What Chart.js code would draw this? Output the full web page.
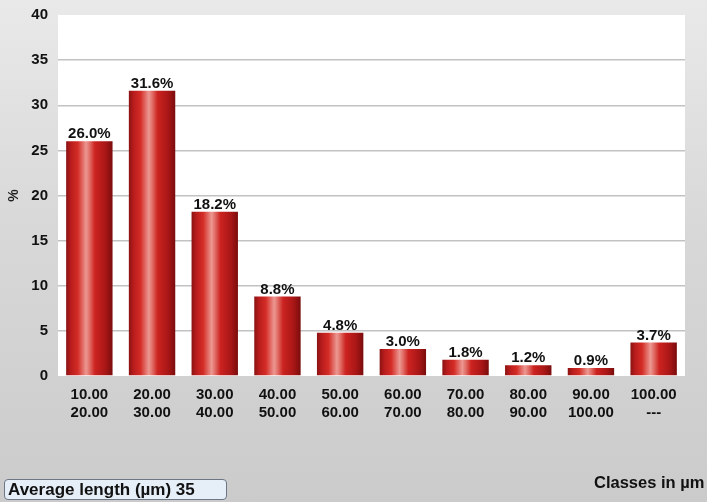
<!DOCTYPE html>
<html>
<head>
<meta charset="utf-8">
<script src="https://cdn.jsdelivr.net/npm/chart.js@4.4.1/dist/chart.umd.min.js"></script>
<style>
  html, body { margin: 0; padding: 0; }
  #wrap {
    position: relative;
    width: 707px;
    height: 502px;
    background: linear-gradient(to bottom, #e9e9e9 0%, #d8d8d8 45%, #cbcbcb 100%);
    overflow: hidden;
  }
  #chartBox { position: absolute; left: 0; top: 0; width: 707px; height: 502px; }
  #avgBox {
    position: absolute;
    left: 4px;
    top: 479px;
    width: 218px;
    height: 19px;
    border: 1px solid #6c7684;
    border-radius: 4px;
    background: #e6eef8;
    font-family: "Liberation Sans", Arial, sans-serif;
    font-weight: bold;
    font-size: 17px;
    line-height: 19px;
    padding-left: 3px;
    color: #111;
    white-space: nowrap;
  }
  #xTitle {
    position: absolute;
    left: 594px;
    top: 473px;
    font-family: "Liberation Sans", Arial, sans-serif;
    font-weight: bold;
    font-size: 16.5px;
    color: #111;
    white-space: nowrap;
  }
</style>
</head>
<body>
<div id="wrap">
  <div id="chartBox"><canvas id="histChart"></canvas></div>
  <div id="avgBox">Average length (µm) 35</div>
  <div id="xTitle">Classes in µm</div>
</div>
<script>
// Classes (two lines each) and percentages
const classFrom = ['10.00', '20.00', '30.00', '40.00', '50.00', '60.00', '70.00', '80.00', '90.00', '100.00'];
const classTo = ['20.00', '30.00', '40.00', '50.00', '60.00', '70.00', '80.00', '90.00', '100.00', '---'];
const percents = [26.0, 31.6, 18.2, 8.8, 4.8, 3.0, 1.8, 1.2, 0.9, 3.7];
const yTicks = [0, 5, 10, 15, 20, 25, 30, 35, 40];

const BAR_PCT = 0.74;
const FONT = '"Liberation Sans", Arial, sans-serif';

// white plot area
const plotBg = {
  id: 'plotBg',
  beforeDraw(chart) {
    const a = chart.chartArea;
    const ctx = chart.ctx;
    ctx.save();
    ctx.fillStyle = '#ffffff';
    ctx.fillRect(a.left, a.top, a.right - a.left, a.bottom - a.top);
    ctx.restore();
  }
};

// value labels on top of bars
const valueLabels = {
  id: 'valueLabels',
  afterDatasetsDraw(chart) {
    const ctx = chart.ctx;
    const meta = chart.getDatasetMeta(0);
    ctx.save();
    ctx.font = 'bold 15px ' + FONT;
    ctx.fillStyle = '#111111';
    ctx.textAlign = 'center';
    ctx.textBaseline = 'alphabetic';
    meta.data.forEach((bar, i) => {
      ctx.fillText(percents[i].toFixed(1) + '%', bar.x, bar.y - 3);
    });
    ctx.restore();
  }
};

// cylinder-like gradient for each bar
function barGradient(context) {
  const chart = context.chart;
  const xs = chart.scales.x;
  if (!xs || context.dataIndex === undefined) return '#cc2020';
  const cx = xs.getPixelForValue(context.dataIndex);
  const w = xs.width / classFrom.length * BAR_PCT;
  if (!isFinite(cx) || !isFinite(w) || w <= 0) return '#cc2020';
  const g = chart.ctx.createLinearGradient(cx - w / 2, 0, cx + w / 2, 0);
  g.addColorStop(0, '#8a1212');
  g.addColorStop(0.1, '#b81c1c');
  g.addColorStop(0.25, '#d42c26');
  g.addColorStop(0.43, '#ec9892');
  g.addColorStop(0.5, '#e2716a');
  g.addColorStop(0.62, '#cc2320');
  g.addColorStop(0.85, '#a81616');
  g.addColorStop(1, '#7a0c0c');
  return g;
}

new Chart(document.getElementById('histChart'), {
  type: 'bar',
  data: {
    labels: classFrom.map((f, i) => [f, classTo[i]]),
    datasets: [{
      data: percents,
      backgroundColor: barGradient,
      borderWidth: 0,
      categoryPercentage: 1,
      barPercentage: BAR_PCT
    }]
  },
  options: {
    responsive: true,
    maintainAspectRatio: false,
    animation: false,
    layout: { padding: { top: 15, right: 22, left: 0, bottom: 0 } },
    plugins: {
      legend: { display: false },
      tooltip: { enabled: false }
    },
    scales: {
      x: {
        grid: { display: false, drawTicks: false },
        border: { display: false },
        ticks: {
          color: '#111111',
          padding: 9,
          maxRotation: 0,
          autoSkip: false,
          font: { family: FONT, size: 15, weight: 'bold', lineHeight: 1.25 }
        },
        afterFit(scale) { scale.height = 126; }
      },
      y: {
        min: 0,
        max: 40,
        afterBuildTicks(scale) { scale.ticks = yTicks.map(v => ({ value: v })); },
        grid: {
          drawTicks: false,
          lineWidth: 1.5,
          color: (c) => (c.tick && (c.tick.value === 0 || c.tick.value === 40)) ? 'rgba(0,0,0,0)' : '#c2c2c2'
        },
        border: { display: false },
        ticks: {
          color: '#111111',
          padding: 10,
          font: { family: FONT, size: 15, weight: 'bold' }
        },
        title: {
          display: true,
          text: '%',
          color: '#222222',
          padding: { top: 6 },
          font: { family: FONT, size: 14, weight: 'bold' }
        },
        afterFit(scale) {
          scale.width = 58;
          scale.paddingTop = 0;
          scale.paddingBottom = 0;
        }
      }
    }
  },
  plugins: [plotBg, valueLabels]
});
</script>
</body>
</html>
